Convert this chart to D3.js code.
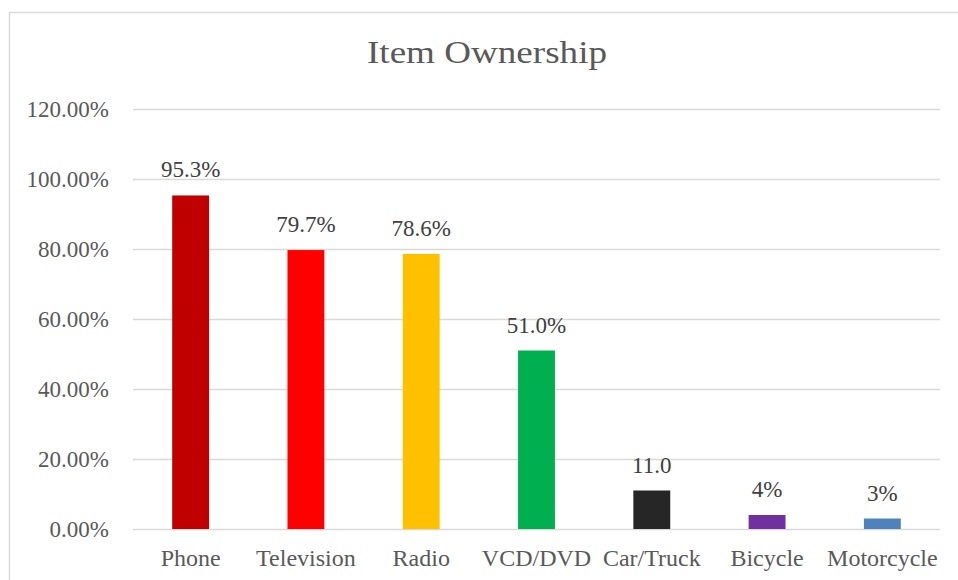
<!DOCTYPE html>
<html>
<head>
<meta charset="utf-8">
<script src="https://cdn.jsdelivr.net/npm/d3@7"></script>
<style>
  html, body { margin: 0; padding: 0; background: #fff; }
  svg { display: block; font-family: "Liberation Serif", "Times New Roman", serif; }
</style>
</head>
<body>
<svg id="chart" width="958" height="580"></svg>
<script>
// Item ownership shares (percent)
const categories = ["Phone", "Television", "Radio", "VCD/DVD", "Car/Truck", "Bicycle", "Motorcycle"];
const values = [95.3, 79.7, 78.6, 51.0, 11.0, 4, 3];
const valueLabels = ["95.3%", "79.7%", "78.6%", "51.0%", "11.0", "4%", "3%"];
const barColors = ["#C00000", "#FF0000", "#FFC000", "#00B050", "#262626", "#7030A0", "#4F81BD"];
const yTicks = [0, 20, 40, 60, 80, 100, 120];
const yTickLabels = ["0.00%", "20.00%", "40.00%", "60.00%", "80.00%", "100.00%", "120.00%"];

const svg = d3.select("#chart");
const plot = { left: 133, right: 940, top: 109, bottom: 529 };

// Chart frame
svg.append("rect")
  .attr("x", 9.5).attr("y", 12.5)
  .attr("width", 1000).attr("height", 1000)
  .attr("fill", "none").attr("stroke", "#d9d9d9").attr("stroke-width", 1.5);

// Title
svg.append("text")
  .attr("x", 487).attr("y", 63)
  .attr("text-anchor", "middle")
  .attr("fill", "#595959")
  .attr("font-size", 31)
  .attr("textLength", 240)
  .attr("lengthAdjust", "spacingAndGlyphs")
  .text("Item Ownership");

const x = d3.scaleBand()
  .domain(categories)
  .range([plot.left, plot.right])
  .paddingInner(0.68)
  .paddingOuter(0.34);

const y = d3.scaleLinear()
  .domain([0, 120])
  .range([plot.bottom, plot.top]);

// Horizontal gridlines and value axis labels
const yAxis = d3.axisLeft(y)
  .tickValues(yTicks)
  .tickSize(-(plot.right - plot.left))
  .tickPadding(24)
  .tickFormat((d, i) => yTickLabels[i]);

const gy = svg.append("g")
  .attr("transform", `translate(${plot.left},0)`)
  .call(yAxis);
gy.select(".domain").remove();
gy.selectAll(".tick line").attr("stroke", "#d9d9d9").attr("stroke-width", 1.5);
gy.selectAll(".tick text")
  .attr("fill", "#595959")
  .attr("font-size", 23)
  .attr("font-family", "Liberation Serif, Times New Roman, serif")
  .attr("dy", "0.33em");

// Category axis labels
const xAxis = d3.axisBottom(x).tickSize(0).tickPadding(20);
const gx = svg.append("g")
  .attr("transform", `translate(0,${plot.bottom})`)
  .call(xAxis);
gx.select(".domain").remove();
gx.selectAll(".tick text")
  .attr("fill", "#595959")
  .attr("font-size", 24)
  .attr("font-family", "Liberation Serif, Times New Roman, serif");

// Bars
svg.append("g")
  .selectAll("rect")
  .data(categories)
  .join("rect")
  .attr("x", d => x(d))
  .attr("width", x.bandwidth())
  .attr("y", (d, i) => y(values[i]))
  .attr("height", (d, i) => y(0) - y(values[i]))
  .attr("fill", (d, i) => barColors[i]);

// Value labels above bars
svg.append("g")
  .selectAll("text")
  .data(categories)
  .join("text")
  .attr("x", d => x(d) + x.bandwidth() / 2)
  .attr("y", (d, i) => y(values[i]) - 18)
  .attr("text-anchor", "middle")
  .attr("fill", "#404040")
  .attr("font-size", 23)
  .text((d, i) => valueLabels[i]);
</script>
</body>
</html>
